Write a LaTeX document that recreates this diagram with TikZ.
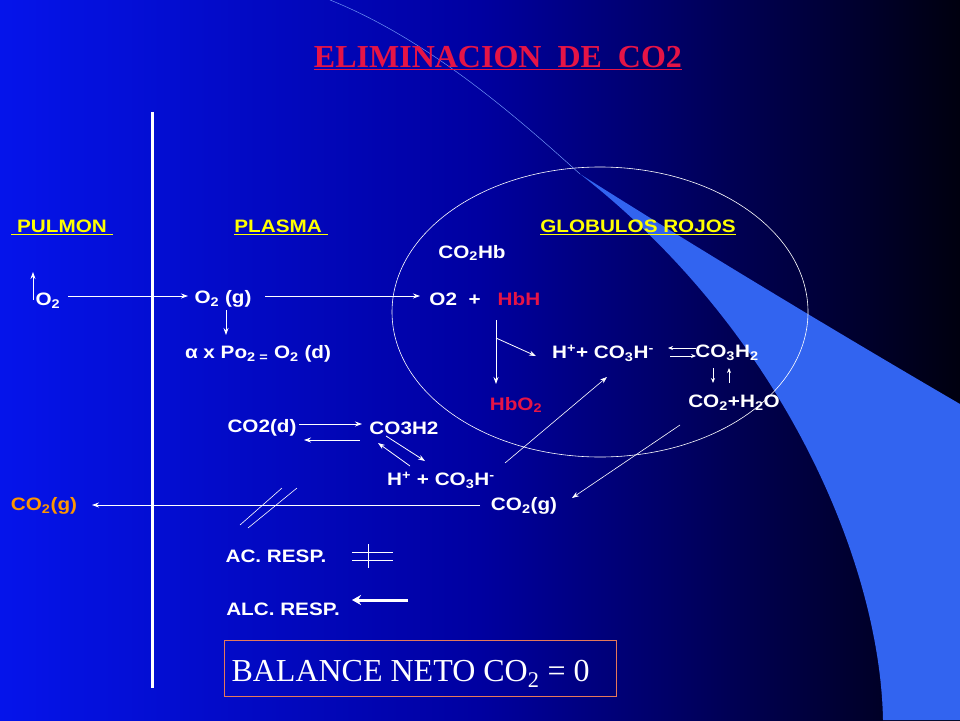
\documentclass[tikz,border=0pt]{standalone}
\usepackage{fontspec}
\setmainfont{Liberation Serif}
\setsansfont{Liberation Sans}
\usetikzlibrary{arrows.meta}
\definecolor{bgA}{RGB}{5,20,235}
\definecolor{bgB}{RGB}{0,0,160}
\definecolor{bgC}{RGB}{0,0,15}
\definecolor{sw}{RGB}{50,100,240}
\definecolor{ttl}{RGB}{230,20,70}
\definecolor{yel}{RGB}{255,255,0}
\definecolor{org}{RGB}{255,150,0}
\definecolor{bx}{RGB}{230,120,90}
\tikzset{
  t/.style={font=\sffamily\bfseries\fontsize{18}{20}\selectfont,text=white,inner sep=1pt,xscale=1.15},
  hd/.style={t,text=yel},
  rd/.style={t,text=ttl},
  ar/.style={draw=white,line width=0.8pt,-{Stealth[length=7pt,width=5pt]}},
  ln/.style={draw=white,line width=0.8pt}
}
\newcommand{\ul}[1]{\underline{#1}}
\newcommand{\sub}[1]{\textsubscript{#1}}
\newcommand{\sups}[1]{\textsuperscript{#1}}
\begin{document}
\begin{tikzpicture}[x=1pt,y=-1pt]
\useasboundingbox (0,0) rectangle (960,720);
\shade[left color=bgA,right color=bgC,middle color=bgB] (0,0) rectangle (960,720);
% swoosh
\fill[sw] (580,174) .. controls (700,250) and (850,340) .. (960,404) -- (960,720) -- (883,720) .. controls (880,560) and (780,330) .. (580,174) -- cycle;
\draw[sw!70!white,line width=0.5pt] (330,0) .. controls (430,40) and (520,120) .. (580,174);
% vertical line
\draw[white,line width=3pt] (152,112) -- (152,688);
% ellipse
\draw[white,line width=0.6pt] (600,312) ellipse [x radius=208,y radius=145];
% title
\node[font=\bfseries\fontsize{32}{36}\selectfont,text=ttl] (title) at (498,58) {\ul{ELIMINACION\ \ DE\ \ CO2}};
% headings
\node[hd] (pulmon) at (62,227) {\ul{\ PULMON\ }};
\node[hd] (plasma) at (281,227) {\ul{PLASMA\ }};
\node[hd] (glob) at (638,227) {\ul{GLOBULOS ROJOS}};
\node[t] (co2hb) at (472,253) {CO\sub{2}Hb};
\node[t] (o2p) at (48,301) {O\sub{2}};
\node[t] (o2g) at (223,299) {O\sub{2} (g)};
\node[t] (o2) at (455,299) {O2\ \ +};
\node[rd] (hbh) at (519,299) {HbH};
\node[t] (o2d) at (258,354) {α x Po\sub{2 =} O\sub{2} (d)};
\node[t] (hco3r) at (603,353) {H\sups{+}+ CO\sub{3}H\sups{-}};
\node[t] (co3h2r) at (727,353) {CO\sub{3}H\sub{2}};
\node[rd] (hbo2) at (516,405) {HbO\sub{2}};
\node[t] (co2h2o) at (734,403) {CO\sub{2}+H\sub{2}O};
\node[t] (co2d) at (262,428) {CO2(d)};
\node[t] (co3h2p) at (404,428) {CO3H2};
\node[t] (hco3p) at (441,480) {H\sups{+} + CO\sub{3}H\sups{-}};
\node[t,text=org] (co2gl) at (44,506) {CO\sub{2}(g)};
\node[t] (co2gr) at (524,506) {CO\sub{2}(g)};
\node[t] (ac) at (276,556) {AC. RESP.};
\node[t] (alc) at (283,609) {ALC. RESP.};
\node[draw=bx,line width=1pt,minimum width=392pt,minimum height=56pt,inner sep=0pt] (bal) at (420,668) {};
\node[font=\fontsize{32}{36}\selectfont,text=white,anchor=west] (baltxt) at (228,674) {BALANCE NETO CO\textsubscript{2} = 0};
% connectors
\coordinate (u1) at (33,300); \coordinate (u2) at (33,272);
\draw[ar] (u1) -- (u2);
\coordinate (a0) at (68,296); \coordinate (a1) at (188,296);
\draw[ar] (a0) -- (a1);
\coordinate (a2) at (265,296); \coordinate (a3) at (420,296);
\draw[ar] (a2) -- (a3);
\coordinate (a4) at (226,310); \coordinate (a5) at (226,335);
\draw[ar] (a4) -- (a5);
\coordinate (v1) at (496,320); \coordinate (v2) at (496,384); \coordinate (v3) at (496,338); \coordinate (v4) at (536,356);
\draw[ar] (v1) -- (v2);
\draw[ar] (v3) -- (v4);
\coordinate (e1) at (696,348); \coordinate (e2) at (668,348);
\coordinate (e3) at (670,356); \coordinate (e4) at (696,356);
\draw[ar,-{Stealth[length=5pt,width=4pt]}] (e1) -- (e2);
\draw[ar,-{Stealth[length=5pt,width=4pt]}] (e3) -- (e4);
\coordinate (d1) at (713,368); \coordinate (d2) at (713,383);
\coordinate (d3) at (729,383); \coordinate (d4) at (729,368);
\draw[ar,-{Stealth[length=5pt,width=4pt]}] (d1) -- (d2);
\draw[ar,-{Stealth[length=5pt,width=4pt]}] (d3) -- (d4);
\coordinate (c1) at (299,424); \coordinate (c2) at (362,424);
\coordinate (c3) at (360,440); \coordinate (c4) at (304,440);
\draw[ar] (c1) -- (c2);
\draw[ar] (c3) -- (c4);
\coordinate (k1) at (386,436); \coordinate (k2) at (425,461);
\coordinate (k3) at (410,466); \coordinate (k4) at (378,443);
\draw[ar] (k1) -- (k2);
\draw[ar] (k3) -- (k4);
\coordinate (m1) at (505,463); \coordinate (m2) at (607,377);
\draw[ar,line width=0.6pt] (m1) -- (m2);
\coordinate (n1) at (680,425); \coordinate (n2) at (572,498);
\draw[ar,line width=0.6pt] (n1) -- (n2);
\coordinate (h1) at (480,505); \coordinate (h2) at (92,505);
\draw[ar] (h1) -- (h2);
\draw[ln,line width=0.6pt] (240,525) -- (282,488);
\draw[ln,line width=0.6pt] (248,528) -- (297,488);
\draw[ln] (352,552) -- (393,552);
\draw[ln] (352,560) -- (393,560);
\draw[ln] (368,544) -- (368,568);
\coordinate (q1) at (408,600); \coordinate (q2) at (352,600);
\draw[draw=white,line width=3pt,-{Stealth[length=9pt,width=10pt]}] (q1) -- (q2);
\end{tikzpicture}
\end{document}
